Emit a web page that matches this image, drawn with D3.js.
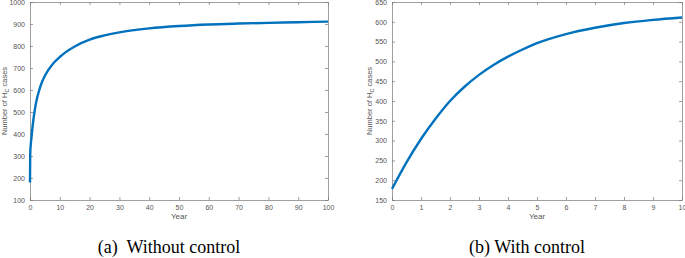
<!DOCTYPE html>
<html>
<head>
<meta charset="utf-8">
<script src="https://cdn.jsdelivr.net/npm/d3@7"></script>
<style>
  body { margin: 0; background: #fff; }
  svg text { font-family: "Liberation Sans", Arial, sans-serif; }
</style>
</head>
<body>
<div id="chart"></div>
<script>
// Panel (a): without control
const yearsA = [0, 0.05, 0.1, 0.25, 0.5, 1, 1.5, 2, 3, 4, 5, 6, 8, 10, 12, 15, 20, 25, 30, 40, 50, 60, 70, 80, 90, 100];
const casesA = [180, 280, 320, 350, 385, 450, 500, 540, 595, 635, 665, 688, 724, 750, 772, 798, 829, 848, 862, 880, 891, 898, 902, 905, 908, 911];
const xTicksA = [0, 10, 20, 30, 40, 50, 60, 70, 80, 90, 100];
const yTicksA = [100, 200, 300, 400, 500, 600, 700, 800, 900, 1000];

// Panel (b): with control
const yearsB = [0, 0.5, 1, 1.5, 2, 2.5, 3, 3.5, 4, 4.5, 5, 6, 7, 8, 9, 10];
const casesB = [178, 245, 304, 355, 400, 436, 466, 491, 512, 530, 546, 569, 585, 597, 605, 611];
const xTicksB = [0, 1, 2, 3, 4, 5, 6, 7, 8, 9, 10];
const yTicksB = [150, 200, 250, 300, 350, 400, 450, 500, 550, 600, 650];

const width = 685, height = 258;
const svg = d3.select("#chart").append("svg")
    .attr("width", width)
    .attr("height", height);

function panel(cfg) {
    const x = d3.scaleLinear().domain(cfg.xDomain).range([cfg.left, cfg.right]);
    const y = d3.scaleLinear().domain(cfg.yDomain).range([cfg.bottom, cfg.top]);
    const g = svg.append("g");
    const fmt = d3.format("d");

    // inward ticks on all four sides, MATLAB style
    const axStyle = sel => {
        sel.selectAll("path").attr("stroke", "#777").attr("stroke-width", 0.7);
        sel.selectAll("line").attr("stroke", "#777").attr("stroke-width", 0.7);
        sel.selectAll("text").attr("fill", "#555").style("font-size", "7px");
    };
    g.append("g").attr("transform", `translate(0,${cfg.bottom})`)
        .call(d3.axisBottom(x).tickValues(cfg.xTicks).tickFormat(fmt).tickSizeInner(-3).tickSizeOuter(0).tickPadding(5))
        .call(axStyle);
    g.append("g").attr("transform", `translate(0,${cfg.top})`)
        .call(d3.axisTop(x).tickValues(cfg.xTicks).tickSizeInner(-3).tickSizeOuter(0).tickFormat(""))
        .call(axStyle);
    g.append("g").attr("transform", `translate(${cfg.left},0)`)
        .call(d3.axisLeft(y).tickValues(cfg.yTicks).tickFormat(fmt).tickSizeInner(-3).tickSizeOuter(0).tickPadding(5))
        .call(axStyle);
    g.append("g").attr("transform", `translate(${cfg.right},0)`)
        .call(d3.axisRight(y).tickValues(cfg.yTicks).tickSizeInner(-3).tickSizeOuter(0).tickFormat(""))
        .call(axStyle);
    g.selectAll(".domain").attr("fill", "none");

    // curve
    const line = d3.line()
        .x(d => x(d[0]))
        .y(d => y(d[1]))
        .curve(d3.curveMonotoneX);
    g.append("path")
        .datum(cfg.xs.map((v, i) => [v, cfg.ys[i]]))
        .attr("d", line)
        .attr("fill", "none")
        .attr("stroke", "#0072BD")
        .attr("stroke-width", 2.4);

    // axis titles
    g.append("text")
        .attr("x", (cfg.left + cfg.right) / 2)
        .attr("y", 219)
        .attr("text-anchor", "middle")
        .attr("fill", "#555")
        .style("font-size", "8px")
        .text("Year");

    const yl = g.append("text")
        .attr("transform", `translate(${cfg.yLabelX},${(cfg.top + cfg.bottom) / 2}) rotate(-90)`)
        .attr("text-anchor", "middle")
        .attr("fill", "#555")
        .style("font-size", "7.5px");
    yl.append("tspan").text("Number of H");
    yl.append("tspan").attr("dy", 2).style("font-size", "5.5px").text("C");
    yl.append("tspan").attr("dy", -2).text(" cases");

    // caption
    svg.append("text")
        .attr("x", cfg.captionX)
        .attr("y", 253)
        .attr("text-anchor", "middle")
        .attr("fill", "#000")
        .style("font-family", "'Liberation Serif', 'Times New Roman', serif")
        .style("font-size", "18px")
        .text(cfg.caption);
}

panel({
    xs: yearsA, ys: casesA, xTicks: xTicksA, yTicks: yTicksA,
    xDomain: [0, 100], yDomain: [100, 1000],
    left: 30, right: 328, top: 2, bottom: 200,
    yLabelX: 7, captionX: 169, caption: "(a)\u00A0 Without control"
});

panel({
    xs: yearsB, ys: casesB, xTicks: xTicksB, yTicks: yTicksB,
    xDomain: [0, 10], yDomain: [150, 650],
    left: 392, right: 682, top: 2, bottom: 200,
    yLabelX: 372, captionX: 527, caption: "(b) With control"
});
</script>
</body>
</html>
